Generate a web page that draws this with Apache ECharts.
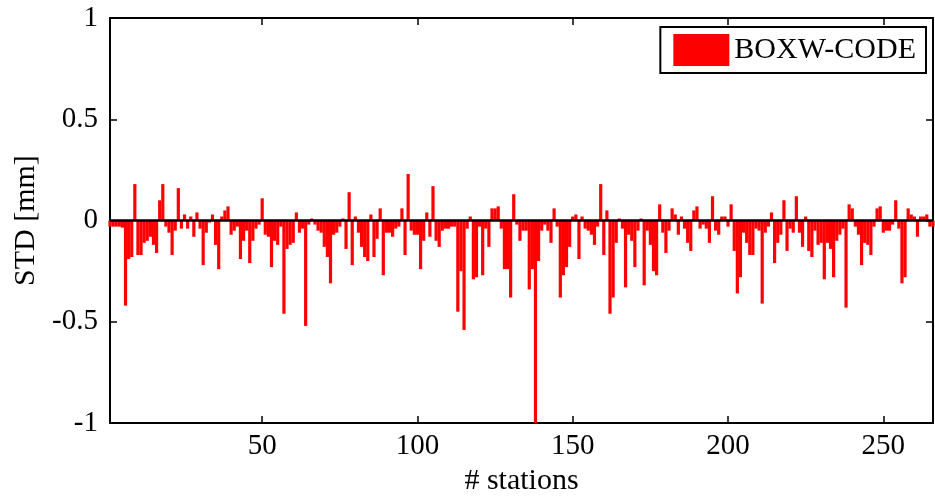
<!DOCTYPE html>
<html>
<head>
<meta charset="utf-8">
<script src="https://cdn.jsdelivr.net/npm/echarts@6/dist/echarts.min.js"></script>
<style>html,body{margin:0;padding:0;background:#fff;}#c{width:935px;height:501px;}</style>
</head>
<body>
<div id="c"></div>
<script>
// station numbers 1..266 and STD values [mm]
const firstStation = 1;
const values = [
-0.03,
-0.03,-0.03,-0.03,-0.035,-0.42,-0.19,-0.18,0.18,-0.17,-0.17,
-0.11,-0.10,-0.08,-0.12,-0.16,0.10,0.18,-0.03,-0.06,-0.17,
-0.05,0.16,-0.04,0.03,-0.04,0.02,-0.08,0.04,-0.04,-0.22,
-0.06,-0.01,0.03,-0.12,-0.24,0.02,0.05,0.07,-0.07,-0.05,
-0.03,-0.19,-0.10,-0.05,-0.21,-0.10,-0.04,-0.02,0.11,-0.07,
-0.08,-0.23,-0.10,-0.12,-0.03,-0.46,-0.14,-0.12,-0.11,0.04,
-0.06,-0.04,-0.52,-0.02,0.01,-0.02,-0.05,-0.06,-0.13,-0.18,
-0.31,-0.07,-0.06,-0.03,0.01,-0.14,0.14,-0.22,0.02,-0.06,
-0.13,-0.18,-0.20,0.03,-0.18,-0.09,0.06,-0.27,-0.06,-0.06,
-0.08,-0.04,-0.03,0.06,-0.17,0.23,-0.05,-0.07,-0.07,-0.24,
-0.10,0.04,-0.08,0.17,-0.10,-0.13,-0.05,-0.04,-0.04,-0.03,
-0.03,-0.45,-0.25,-0.54,-0.04,0.02,-0.29,-0.28,-0.03,-0.27,
-0.04,-0.13,0.06,0.06,0.07,-0.04,-0.24,-0.24,-0.38,0.13,
-0.02,-0.10,-0.05,-0.05,-0.34,-0.24,-1.00,-0.20,-0.05,-0.02,
-0.05,-0.11,0.06,-0.03,-0.38,-0.27,-0.23,-0.13,0.02,0.03,
-0.19,0.02,-0.04,-0.05,-0.07,-0.12,-0.03,0.18,-0.17,0.05,
-0.46,-0.38,-0.11,0.01,-0.04,-0.33,-0.07,-0.10,-0.23,-0.05,
0.01,-0.32,-0.05,-0.12,-0.25,-0.27,0.08,-0.06,-0.16,-0.05,
0.06,0.03,-0.07,0.02,-0.04,-0.11,-0.15,0.05,0.07,-0.04,
-0.02,-0.04,-0.11,0.12,-0.05,-0.07,0.02,0.02,-0.03,0.08,
-0.15,-0.36,-0.28,-0.06,-0.11,-0.17,-0.17,-0.04,-0.05,-0.41,
-0.06,-0.03,0.04,-0.21,-0.11,-0.07,0.10,-0.15,-0.04,-0.06,
0.12,-0.06,-0.13,0.02,-0.15,-0.18,-0.05,-0.12,-0.11,-0.29,
-0.11,-0.14,-0.28,-0.10,-0.07,-0.04,-0.43,0.08,0.06,-0.03,
-0.07,-0.22,-0.11,-0.12,-0.17,-0.03,0.06,0.07,-0.06,-0.05,
-0.05,-0.02,0.10,-0.04,-0.31,-0.28,0.06,0.03,0.02,-0.08,
0.02,0.02,0.03,-0.03,-0.03
];
const stations = values.map((v, i) => firstStation + i);
const xTicks = [50, 100, 150, 200, 250];
const xRange = [1, 266];
const yTicks = [-1, -0.5, 0, 0.5, 1];
const seriesName = 'BOXW-CODE';
const xTitle = '# stations';
const yTitle = 'STD [mm]';

const barData = stations.map((s, i) => [s, values[i]]);
const font = 'Liberation Serif';
const chart = echarts.init(document.getElementById('c'), null, {renderer: 'canvas'});
const tickStyle = {color: '#000', width: 1.5};
chart.setOption({
  animation: false,
  backgroundColor: '#fff',
  grid: {left: 110, right: 2, top: 18, bottom: 67},
  legend: {
    data: [seriesName],
    right: 9, top: 27,
    icon: 'rect',
    itemWidth: 56, itemHeight: 32,
    padding: [7, 10, 7, 13],
    borderColor: '#000', borderWidth: 2,
    backgroundColor: '#fff',
    textStyle: {fontFamily: font, fontSize: 30, color: '#000'}
  },
  xAxis: [{
    type: 'value', min: xRange[0], max: xRange[1], position: 'bottom',
    axisLine: {show: true, onZero: false, lineStyle: {color: '#000', width: 2}},
    axisTick: {show: true, inside: true, length: 7, customValues: xTicks, lineStyle: tickStyle},
    axisLabel: {customValues: xTicks, fontFamily: font, fontSize: 29, color: '#000', margin: 9},
    splitLine: {show: false},
    name: xTitle, nameLocation: 'middle', nameGap: 36,
    nameTextStyle: {fontFamily: font, fontSize: 30, color: '#000'}
  }, {
    type: 'value', min: xRange[0], max: xRange[1], position: 'top',
    axisLine: {show: true, onZero: false, lineStyle: {color: '#000', width: 2}},
    axisTick: {show: true, inside: true, length: 7, customValues: xTicks, lineStyle: tickStyle},
    axisLabel: {show: false}, splitLine: {show: false}
  }],
  yAxis: [{
    type: 'value', min: yTicks[0], max: yTicks[yTicks.length - 1], interval: 0.5, position: 'left',
    axisLine: {show: true, onZero: false, lineStyle: {color: '#000', width: 2}},
    axisTick: {show: true, inside: true, length: 7, lineStyle: tickStyle},
    axisLabel: {fontFamily: font, fontSize: 29, color: '#000', margin: 12},
    splitLine: {show: false},
    name: yTitle, nameLocation: 'middle', nameGap: 63, nameRotate: 90,
    nameTextStyle: {fontFamily: font, fontSize: 30, color: '#000'}
  }, {
    type: 'value', min: yTicks[0], max: yTicks[yTicks.length - 1], interval: 0.5, position: 'right',
    axisLine: {show: true, onZero: false, lineStyle: {color: '#000', width: 2}},
    axisTick: {show: true, inside: true, length: 7, lineStyle: tickStyle},
    axisLabel: {show: false}, splitLine: {show: false}
  }],
  series: [{
    name: seriesName, type: 'bar', data: barData,
    xAxisIndex: 0, yAxisIndex: 0,
    barWidth: 3.2,
    clip: true,
    itemStyle: {color: '#ff0000'},
    markLine: {
      silent: true, symbol: 'none', label: {show: false},
      lineStyle: {color: '#000', width: 2.5, type: 'solid'},
      data: [{yAxis: 0}]
    }
  }]
});
</script>
</body>
</html>
